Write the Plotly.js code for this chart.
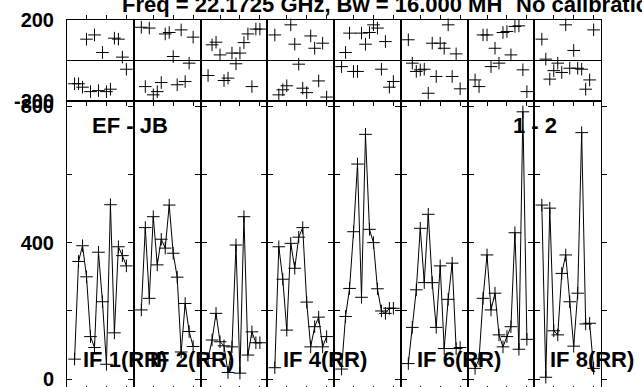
<!DOCTYPE html>
<html>
<head>
<meta charset="utf-8">
<script src="https://cdn.plot.ly/plotly-3.0.1.min.js"></script>
<style>html,body{margin:0;padding:0;overflow:hidden;background:#fff;}#chart{width:642px;height:396px;}</style>
</head>
<body>
<div id="chart"></div>
<script>
// ---- data ----
const ifLabels = ['IF 1(RR)', 'IF 2(RR)', 'IF 3(RR)', 'IF 4(RR)', 'IF 5(RR)', 'IF 6(RR)', 'IF 7(RR)', 'IF 8(RR)'];
const showIfLabel = [true, true, false, true, false, true, false, true];
const channels = [2, 3, 4, 5, 6, 7, 8, 9, 10, 11, 12, 13, 14, 15];

const amp1 = [59, 345, 391, 300, 125, 93, 372, 227, 44, 511, 136, 388, 362, 332];
const amp2 = [203, 444, 237, 476, 335, 410, 384, 510, 369, 299, 80, 222, 140, 96];
const amp3 = [61, 115, 193, 110, 98, 20, 95, 393, 18, 476, 71, 139, 107, 107];
const amp4 = [34, 388, 293, 144, 398, 325, 416, 444, 226, 95, 154, 182, 95, 125];
const amp5 = [30, 184, 266, 432, 630, 240, 717, 439, 400, 265, 200, 193, 208, 208];
const amp6 = [46, 152, 262, 442, 283, 483, 283, 152, 332, 90, 234, 340, 90, 93];
const amp7 = [32, 60, 237, 364, 203, 252, 130, 95, 125, 154, 429, 88, 783, 117];
const amp8 = [510, 6, 501, 142, 130, 310, 364, 227, 97, 252, 722, 162, 164, 32];

const ph1 = [-116, -116, -133, 105, -155, 126, -150, 39, -155, -143, 110, 105, 16, -44];
const ph2 = [164, -130, 160, -171, -155, -110, 131, 138, 19, -121, 151, -105, -14, 115];
const ph3 = [-75, 77, 90, 27, -100, -88, 36, -17, 36, 88, 131, -130, 155, 155];
const ph4 = [126, -171, -146, -126, 176, 80, -19, -138, -160, 121, 60, -102, 85, -182];
const ph5 = [-31, 39, 135, -55, -55, 135, 80, 138, 176, 160, -44, 93, -133, -105];
const ph6 = [102, -14, -55, -47, -44, -163, 85, -80, 85, 60, 176, -80, 32, -141];
const ph7 = [-97, -130, 126, 126, -31, 60, -14, 138, 143, 27, 168, 171, -47, -155];
const ph8 = [105, 6, -93, -51, -14, -60, 176, -39, 49, -39, -44, -143, -97, 151];

const ampTicks = [0, 200, 400, 600, 800];
const ampTickText = ['0', '', '400', '', '800'];
const phaseTicks = [-200, 200];
const phaseTickText = ['-200', '200'];
const chanTicks = [5, 10, 15];

const titleLeft = 'Freq = 22.1725 GHz, Bw = 16.000 MH';
const titleRight = 'No calibration';
const baselineLabel = 'EF - JB';
const stokesLabel = '1 - 2';

const amps = [amp1, amp2, amp3, amp4, amp5, amp6, amp7, amp8];
const phases = [ph1, ph2, ph3, ph4, ph5, ph6, ph7, ph8];

// ---- layout geometry ----
const FIG_W = 642, FIG_H = 396;
const M = {l: 67, r: 41, t: 20, b: 6};
const plotW = FIG_W - M.l - M.r, plotH = FIG_H - M.t - M.b;
const splitPx = 100.7; // boundary between phase and amplitude panels
const splitFrac = (FIG_H - M.b - splitPx) / plotH;
const px2x = p => (p - M.l) / plotW;
const py2y = p => (FIG_H - M.b - p) / plotH;
const nIF = 8;
const panelW = plotW / nIF;

const font = {family: 'Liberation Sans, Arial, sans-serif', size: 20, color: '#000', weight: 'bold'};
const bigFont = Object.assign({}, font, {size: 22});
const crossMarker = {symbol: 'cross-thin', size: 9, color: '#000', line: {width: 1, color: '#000'}};

const traces = [];
const layout = {
  width: FIG_W, height: FIG_H,
  margin: M,
  paper_bgcolor: '#fff', plot_bgcolor: '#fff',
  showlegend: false,
  font: font,
  annotations: [],
  yaxis: {
    domain: [splitFrac, 1], range: [-200, 200], anchor: 'x',
    showline: true, linecolor: '#000', linewidth: 1, mirror: 'all',
    showgrid: false, zeroline: true, zerolinecolor: '#000', zerolinewidth: 1,
    ticks: '', tickvals: phaseTicks, ticktext: phaseTickText, tickfont: font,
    ticklabelstandoff: 8
  },
  yaxis2: {
    domain: [0, splitFrac], range: [-31.3, 815.5], anchor: 'x',
    showline: true, linecolor: '#000', linewidth: 1, mirror: 'allticks',
    showgrid: false, zeroline: false,
    ticks: 'inside', ticklen: 5, tickwidth: 1, tickcolor: '#000',
    tickvals: ampTicks, ticktext: ampTickText, tickfont: font,
    ticklabelstandoff: 8
  }
};

for (let k = 0; k < nIF; k++) {
  const xa = k === 0 ? 'x' : 'x' + (k + 1);
  const xKey = k === 0 ? 'xaxis' : 'xaxis' + (k + 1);
  layout[xKey] = {
    domain: [k / nIF, (k + 1) / nIF], range: [0.1, 16.85], anchor: 'y2',
    showline: true, linecolor: '#000', linewidth: 1, mirror: 'allticks',
    showgrid: false, zeroline: false,
    ticks: 'inside', ticklen: 4, tickwidth: 1, tickcolor: '#000',
    tickvals: chanTicks, showticklabels: false
  };
  traces.push({
    x: channels, y: amps[k], xaxis: xa, yaxis: 'y2', type: 'scatter',
    mode: 'lines+markers', line: {color: '#000', width: 1}, marker: crossMarker,
    hoverinfo: 'skip', cliponaxis: false
  });
  traces.push({
    x: channels, y: phases[k], xaxis: xa, yaxis: 'y', type: 'scatter',
    mode: 'markers', marker: crossMarker, hoverinfo: 'skip', cliponaxis: false
  });
  if (showIfLabel[k]) {
    layout.annotations.push({
      text: ifLabels[k], xref: 'paper', yref: 'paper',
      x: px2x(M.l + k * panelW + 14), xanchor: 'left',
      y: py2y(359), yanchor: 'middle', showarrow: false, font: bigFont
    });
  }
}

layout.annotations.push({
  text: baselineLabel, xref: 'paper', yref: 'paper',
  x: px2x(90), xanchor: 'left', y: py2y(126), yanchor: 'middle',
  showarrow: false, font: bigFont
});
layout.annotations.push({
  text: stokesLabel, xref: 'paper', yref: 'paper',
  x: px2x(559), xanchor: 'right', y: py2y(126), yanchor: 'middle',
  showarrow: false, font: bigFont
});
layout.annotations.push({
  text: titleLeft, xref: 'paper', yref: 'paper',
  x: px2x(120), xanchor: 'left', y: py2y(4), yanchor: 'middle',
  showarrow: false, font: bigFont
});
layout.annotations.push({
  text: titleRight, xref: 'paper', yref: 'paper',
  x: px2x(514), xanchor: 'left', y: py2y(4), yanchor: 'middle',
  showarrow: false, font: bigFont
});

Plotly.newPlot('chart', traces, layout, {staticPlot: true, displayModeBar: false});
</script>
</body>
</html>
